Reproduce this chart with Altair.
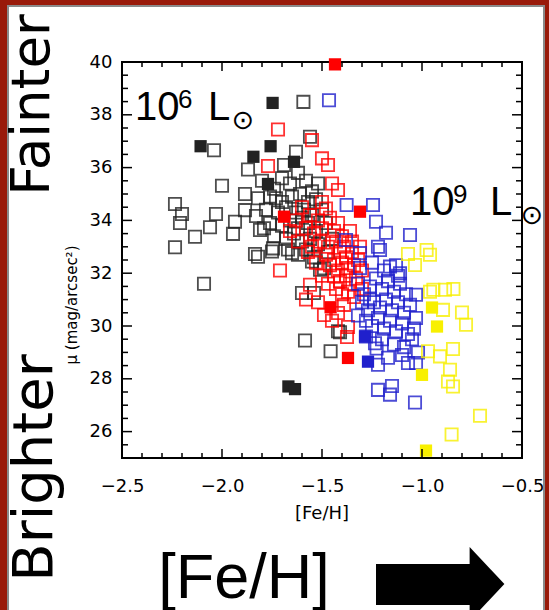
import altair as alt
import pandas as pd

# ---------------- data ----------------
# black, open squares
bo_x = [-2.04, -1.593, -1.56, -1.87, -2.0, -1.885, -2.235, -2.20, -2.03, -1.82, -1.73, -1.885, -1.83,
        -1.935, -2.06, -2.135, -1.945, -1.79, -2.235, -1.835, -1.82, -1.745, -2.09, -1.81, -2.21,
        -1.75, -1.65, -1.55, -1.51, -1.60, -1.54, -1.585, -1.41, -1.457, -1.49, -1.42,
        -1.80, -1.74, -1.70, -1.66, -1.62, -1.58, -1.55, -1.76, -1.70, -1.65, -1.61, -1.57, -1.53,
        -1.78, -1.72, -1.68, -1.63, -1.59, -1.55, -1.50, -1.76, -1.70, -1.66, -1.62, -1.57, -1.53,
        -1.48, -1.74, -1.68, -1.64, -1.60, -1.56, -1.52, -1.67, -1.62, -1.58, -1.54, -1.47, -1.69,
        -1.63, -1.52, -1.60, -1.45]
bo_y = [36.66, 38.49, 37.17, 35.93, 35.31, 35.0, 34.62, 34.24, 34.24, 34.84, 34.84, 34.39, 34.17,
        33.95, 33.74, 33.38, 33.49, 33.70, 32.98, 32.73, 32.62, 32.94, 31.6, 33.64, 33.9,
        32.82, 32.76, 32.44, 32.13, 31.25, 31.25, 29.45, 29.76, 29.04, 32.19, 29.8,
        35.5, 35.2, 35.6, 35.4, 35.8, 35.5, 35.1, 34.9, 34.7, 34.9, 35.0, 34.7, 34.8,
        34.4, 34.3, 34.5, 34.3, 34.4, 34.2, 34.4, 33.9, 33.8, 34.0, 33.7, 33.9, 33.6,
        33.9, 33.4, 33.3, 33.5, 33.2, 33.3, 33.1, 32.9, 32.7, 32.9, 32.6, 32.8, 36.1,
        36.6, 35.4, 34.1, 33.3]
# black, filled squares
bf_x = [-2.107, -1.843, -1.757, -1.77, -1.747, -1.64, -1.668, -1.635]
bf_y = [36.81, 36.41, 36.81, 35.38, 38.45, 36.22, 27.71, 27.61]
# red, open squares
ro_x = [-1.72, -1.77, -1.55, -1.50, -1.47, -1.45, -1.42, -1.50, -1.48, -1.71, -1.56, -1.49, -1.42,
        -1.37, -1.375, -1.60, -1.56, -1.52, -1.46, -1.42, -1.58, -1.54, -1.50, -1.44, -1.40, -1.36,
        -1.55, -1.51, -1.47, -1.43, -1.39, -1.35, -1.31, -1.48, -1.44, -1.41, -1.38, -1.35, -1.32,
        -1.46, -1.42, -1.40, -1.37, -1.34, -1.30, -1.44, -1.41, -1.38, -1.36, -1.33, -1.43, -1.40,
        -1.37, -1.34, -1.30, -1.47, -1.50, -1.53, -1.57, -1.62, -1.66, -1.52, -1.39, -1.45, -1.58,
        -1.63]
ro_y = [37.44, 36.06, 37.04, 36.35, 36.1, 35.4, 35.15, 34.7, 34.45, 32.1, 31.56, 30.42, 30.49,
        29.96, 29.58, 34.5, 34.2, 34.0, 34.1, 33.9, 33.7, 33.5, 33.7, 33.6, 33.4, 33.6,
        33.0, 33.2, 33.0, 33.2, 33.0, 33.2, 33.0, 32.7, 32.5, 32.8, 32.6, 32.8, 32.5,
        32.3, 32.1, 32.4, 32.2, 32.3, 32.1, 31.9, 31.7, 31.9, 31.6, 31.8, 31.4, 31.2,
        31.3, 31.1, 31.4, 31.6, 31.9, 32.4, 32.8, 33.2, 33.6, 30.9, 30.8, 30.2, 31.0,
        34.0]
# red, filled squares
rf_x = [-1.435, -1.31, -1.457, -1.37, -1.69]
rf_y = [39.91, 34.33, 30.71, 28.79, 34.14]
# blue, open squares
blo_x = [-1.465, -1.377, -1.245, -1.23, -1.18, -1.06, -1.38, -1.31, -1.21, -1.235, -1.22, -1.16,
         -1.035, -1.15, -1.07, -1.03, -1.227, -1.22, -1.16, -1.11, -1.03,
         -1.32, -1.29, -1.26, -1.23, -1.20, -1.17, -1.14, -1.11, -1.08, -1.30, -1.27, -1.24, -1.21,
         -1.18, -1.15, -1.12, -1.09, -1.06, -1.03, -1.28, -1.25, -1.22, -1.19, -1.16, -1.13, -1.10,
         -1.07, -1.04, -1.20, -1.14, -1.09, -1.05, -1.02, -1.31, -1.25, -1.19, -1.13, -1.22, -1.28,
         -1.10, -1.17, -1.26, -1.12, -1.32]
blo_y = [38.55, 34.58, 34.58, 33.95, 33.53, 33.45, 33.26, 32.76, 32.88, 29.35, 27.58, 27.4,
         27.1, 27.73, 28.6, 28.6, 29.15, 28.53, 32.25, 32.0, 31.18,
         31.6, 31.2, 31.5, 31.8, 31.4, 31.7, 31.3, 31.6, 31.2, 30.9, 30.6, 30.9, 30.7,
         31.0, 30.6, 30.9, 30.5, 30.8, 30.3, 30.2, 30.0, 30.3, 29.9, 30.2, 29.8, 30.1,
         29.7, 29.9, 29.5, 29.3, 29.2, 29.5, 29.0, 32.2, 32.4, 32.1, 32.3, 33.0, 29.6,
         28.9, 28.8, 31.0, 31.9, 30.4]
# blue, filled squares
blf_x = [-1.27, -1.285]
blf_y = [28.65, 29.6]
# yellow, open squares
yo_x = [-1.07, -0.977, -1.035, -0.96, -0.843, -0.895, -0.80, -0.78, -0.97, -0.91, -0.845, -0.86,
        -0.87, -0.845, -0.71, -0.852, -0.943, -0.885, -0.96]
yo_y = [32.73, 32.88, 32.31, 31.3, 31.4, 30.61, 30.51, 30.05, 29.04, 28.85, 29.13, 28.34,
        27.9, 27.71, 26.6, 25.89, 31.37, 31.37, 32.7]
# yellow, filled squares
yf_x = [-0.95, -0.925, -1.0, -0.98]
yf_y = [30.7, 29.98, 28.15, 25.28]

groups = ["dwarf", "red", "blue", "yellow"]
colors = ["#222222", "#ff0000", "#2020cc", "#f8f000"]

x_ticks = [-2.5, -2.0, -1.5, -1.0, -0.5]
y_ticks = [26, 28, 30, 32, 34, 36, 38, 40]

# ---------------- tables ----------------
def tbl(xs, ys, g):
    return pd.DataFrame({"x": xs, "y": ys, "g": g})

open_df = pd.concat([tbl(bo_x, bo_y, "dwarf"), tbl(ro_x, ro_y, "red"),
                     tbl(blo_x, blo_y, "blue"), tbl(yo_x, yo_y, "yellow")], ignore_index=True)
fill_df = pd.concat([tbl(bf_x, bf_y, "dwarf"), tbl(rf_x, rf_y, "red"),
                     tbl(blf_x, blf_y, "blue"), tbl(yf_x, yf_y, "yellow")], ignore_index=True)

W, H = 400, 396
xscale = alt.Scale(domain=[-2.5, -0.5], nice=False, zero=False)
yscale = alt.Scale(domain=[25, 40], nice=False, zero=False)
xaxis = alt.Axis(values=x_ticks, format=".1f", title=None, ticks=False, tickSize=0, domain=False,
                 grid=False, labelFont="DejaVu Sans", labelFontSize=18, labelPadding=19,
                 labelColor="black", labelFlush=False, labelOverlap=False)
yaxis = alt.Axis(values=y_ticks, format="d", title=None, ticks=False, tickSize=0, domain=False,
                 grid=False, labelFont="DejaVu Sans", labelFontSize=18, labelPadding=10,
                 labelColor="black", labelFlush=False, labelOverlap=False)
cscale = alt.Scale(domain=groups, range=colors)

X = alt.X("x:Q", scale=xscale, axis=xaxis)
Y = alt.Y("y:Q", scale=yscale, axis=yaxis)

open_layer = alt.Chart(open_df).mark_square(filled=False, size=150, strokeWidth=1.8, opacity=0.8).encode(
    x=X, y=Y, color=alt.Color("g:N", scale=cscale, legend=None))
fill_layer = alt.Chart(fill_df).mark_square(filled=True, size=150, opacity=1).encode(
    x=X, y=Y, color=alt.Color("g:N", scale=cscale, legend=None))

# inward tick marks on all four sides
x_major = pd.DataFrame({"x": x_ticks})
x_minor = pd.DataFrame({"x": [v / 10 for v in range(-24, -5) if v % 5 != 0]})
y_major = pd.DataFrame({"y": y_ticks})
y_minor = pd.DataFrame({"y": [v / 2 for v in range(51, 80) if v % 4 != 0]})

tick_layers = []
for df, ln in [(x_major, 9), (x_minor, 5)]:
    tick_layers.append(alt.Chart(df).mark_rule(color="black", strokeWidth=1.5).encode(
        x=X, y=alt.value(H), y2=alt.value(H - ln)))
    tick_layers.append(alt.Chart(df).mark_rule(color="black", strokeWidth=1.5).encode(
        x=X, y=alt.value(0), y2=alt.value(ln)))
for df, ln in [(y_major, 10), (y_minor, 6)]:
    tick_layers.append(alt.Chart(df).mark_rule(color="black", strokeWidth=1.5).encode(
        y=Y, x=alt.value(0), x2=alt.value(ln)))
    tick_layers.append(alt.Chart(df).mark_rule(color="black", strokeWidth=1.5).encode(
        y=Y, x=alt.value(W), x2=alt.value(W - ln)))

one = pd.DataFrame({"k": [0]})

def txt(s, x, y, size, font="Liberation Sans", angle=0, align="left", baseline="alphabetic"):
    kw = dict(fontSize=size, font=font, align=align, baseline=baseline, color="black")
    if angle:
        kw["angle"] = angle
    return alt.Chart(one).mark_text(**kw).encode(x=alt.value(x), y=alt.value(y), text=alt.value(s))

def box(x, x2, y, y2, color):
    return alt.Chart(one).mark_rect(color=color).encode(
        x=alt.value(x), x2=alt.value(x2), y=alt.value(y), y2=alt.value(y2))

# frame of the slide (drawn first, under everything else)
frame = [
    box(-122, -115, -62, 548, "#991a0a"),
    box(-115, -113, -57, 548, "#8a8a8a"),
    box(-122, 427, -62, -57, "#991a0a"),
    box(-115, 423, -57, -55, "#8a8a8a"),
    box(423, 427, -62, 548, "#991a0a"),
    box(421, 423, -57, 548, "#8a8a8a"),
]

# origin of the plot area is at page pixel (122, 62)
annot = [
    txt("Fainter", -89, 43, 53, font="DejaVu Sans", angle=270, align="center", baseline="middle"),
    txt("Brighter", -87, 406, 56, font="DejaVu Sans", angle=270, align="center", baseline="middle"),
    txt("μ (mag/arcsec²)", -50, 243, 15, font="DejaVu Sans", angle=270, align="center", baseline="middle"),
    txt("10", 13, 58, 40),
    txt("6", 56, 46, 26),
    txt("L", 86, 58, 40),
    txt("⊙", 121, 59, 27, font="DejaVu Sans", align="center", baseline="middle"),
    txt("10", 288, 153, 40),
    txt("9", 331, 141, 26),
    txt("L", 368, 153, 40),
    txt("⊙", 410, 154, 27, font="DejaVu Sans", align="center", baseline="middle"),
    txt("[Fe/H]", 200, 452, 18, font="DejaVu Sans", align="center", baseline="middle"),
    txt("[Fe/H]", 122, 536, 63, align="center"),
    box(254, 348, 502, 543, "black"),
    alt.Chart(one).mark_point(shape="M-0.47,-1L0.47,0L-0.47,1Z", size=5476, filled=True,
                              color="black", opacity=1).encode(x=alt.value(365), y=alt.value(522)),
]

chart = alt.layer(*frame, open_layer, fill_layer, *tick_layers, *annot).properties(
    width=W, height=H,
    autosize=alt.AutoSizeParams(type="none"),
    padding={"left": 122, "top": 62, "right": 27, "bottom": 152},
    background="white",
).configure_view(stroke="black", strokeWidth=2)

chart.save("out.html", embed_options={"renderer": "svg", "actions": False})
